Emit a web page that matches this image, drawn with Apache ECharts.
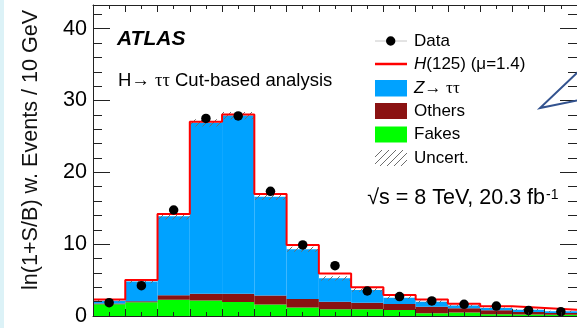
<!DOCTYPE html>
<html>
<head>
<meta charset="utf-8">
<script src="https://cdn.jsdelivr.net/npm/echarts@6/dist/echarts.min.js"></script>
<style>html,body{margin:0;padding:0;background:#fff;}#c{width:577px;height:328px;}</style>
</head>
<body>
<div id="c"></div>
<script>
// ---- data ----
const binEdges = [50,60,70,80,90,100,110,120,130,140,150,160,170,180,190,200];
const fakes    = [1.63,1.90,2.25,2.15,1.95,1.60,1.20,0.93,0.93,0.84,0.40,0.50,0.25,0.22,0.17];
const others   = [0.12,0.15,0.63,0.95,1.15,1.25,1.15,1.07,0.93,0.83,0.90,0.57,0.55,0.33,0.25];
const ztautau  = [0.38,2.75,11.02,23.80,24.80,13.75,6.95,3.25,1.76,0.88,0.70,0.38,0.30,0.33,0.23];
const higgs    = [0.17,0.20,0.30,0.15,0.17,0.40,0.60,0.65,0.38,0.37,0.30,0.25,0.25,0.22,0.21];
const uncert   = [0.15,0.25,0.45,0.50,0.50,0.45,0.35,0.30,0.25,0.20,0.15,0.12,0.10,0.10,0.08];
const dataPts  = [1.86,4.22,14.76,27.5,27.85,17.36,9.9,7.0,3.48,2.7,2.1,1.63,1.39,0.77,0.6];
const yTicks   = [0,10,20,30,40];

const FONT = '"Liberation Sans", Arial, Helvetica, sans-serif';
const C_BLUE = '#00a2ff', C_OTH = '#8a1212', C_FAKE = '#00ff00', C_RED = '#ff0000';

function hatchPattern(size, color){
  const c = document.createElement('canvas');
  c.width = size; c.height = size;
  const g = c.getContext('2d');
  g.strokeStyle = color; g.lineWidth = 1;
  g.beginPath();
  g.moveTo(0, size); g.lineTo(size, 0);
  g.moveTo(-2, 2); g.lineTo(2, -2);
  g.moveTo(size-2, size+2); g.lineTo(size+2, size-2);
  g.stroke();
  return {image: c, repeat: 'repeat'};
}
const HATCH = hatchPattern(7, '#6d6d6d');

// stacked layers
const nb = fakes.length;
const base0 = new Array(nb).fill(0);
const top1 = fakes.map((v,i)=>v);
const top2 = top1.map((v,i)=>v+others[i]);
const top3 = top2.map((v,i)=>v+ztautau[i]);
const top4 = top3.map((v,i)=>v+higgs[i]);

function layer(lo, hi){
  return lo.map((b,i)=>[binEdges[i], binEdges[i+1], b, hi[i]]);
}
function rectRender(fill){
  return function(params, api){
    const p0 = api.coord([api.value(0), api.value(3)]);
    const p1 = api.coord([api.value(1), api.value(2)]);
    return {type:'rect', shape:{x:p0[0], y:p0[1], width:p1[0]-p0[0], height:p1[1]-p0[1]},
            style:{fill: fill, stroke: null}};
  };
}
const stackSeries = [
  {name:'Fakes', lo: base0, hi: top1, fill: C_FAKE},
  {name:'Others', lo: top1, hi: top2, fill: C_OTH},
  {name:'Ztt', lo: top2, hi: top3, fill: C_BLUE}
].map((s,k)=>({
  type:'custom', name:s.name, xAxisIndex:0, yAxisIndex:0, z:2+k*0.1, clip:true,
  renderItem: rectRender(s.fill),
  encode:{x:[0,1], y:[2,3]},
  data: layer(s.lo, s.hi)
}));

const hatchSeries = {
  type:'custom', name:'Uncert', xAxisIndex:0, yAxisIndex:0, z:3, clip:true,
  renderItem: rectRender(HATCH),
  encode:{x:[0,1], y:[2,3]},
  data: top3.map((t,i)=>[binEdges[i], binEdges[i+1], t-uncert[i], t+uncert[i]])
};

const redLine = {
  type:'line', name:'H', step:'end', xAxisIndex:0, yAxisIndex:0, z:4,
  showSymbol:false, symbol:'none',
  lineStyle:{color:C_RED, width:2},
  data: top4.map((v,i)=>[binEdges[i], v]).concat([[binEdges[nb], top4[nb-1]]])
};

const dataSeries = {
  type:'scatter', name:'Data', xAxisIndex:0, yAxisIndex:0, z:5,
  symbol:'circle', symbolSize:9.5, itemStyle:{color:'#000', opacity:1},
  data: dataPts.map((v,i)=>[(binEdges[i]+binEdges[i+1])/2, v])
};

const AX = '#222';
function xAx(pos){
  return {type:'value', position:pos, min:50, max:200, interval:10, z:10,
    axisLine:{show:true, onZero:false, lineStyle:{color:AX, width:1}},
    axisTick:{show:true, inside:true, length:7, lineStyle:{color:AX}},
    minorTick:{show:true, splitNumber:2, length:4, lineStyle:{color:AX}},
    axisLabel:{show:false}, splitLine:{show:false}};
}
function yAx(pos, interval, len, labels, line){
  return {type:'value', position:pos, min:0, max:43.3, interval:interval, z:10,
    axisLine:{show:line, onZero:false, lineStyle:{color:AX, width:1}},
    axisTick:{show:true, inside:true, length:len, lineStyle:{color:AX}},
    axisLabel:{show:labels, margin:6, fontSize:21.6, color:'#000', fontFamily:FONT,
      showMaxLabel:false,
      formatter:(v)=> yTicks.indexOf(v) >= 0 ? String(v) : ''},
    splitLine:{show:false}};
}

const legX = 375, legW = 32, txtX = 414, legFont = 17;
function legText(y, text, rich){
  return {type:'text', x:txtX, y:y, z:100,
    style:{text:text, fill:'#000', font: legFont+'px '+FONT, verticalAlign:'middle', align:'left', rich:rich||{}}};
}
const richIt = {i:{fontStyle:'italic', fontSize:legFont, fontFamily:FONT, fill:'#000'},
                g:{fontSize:legFont, fontFamily:'"Liberation Serif", serif', fill:'#000'}};

const graphics = [
  {type:'rect', shape:{x:0,y:0,width:4,height:328}, style:{fill:'#dcf2f7'}, z:100},
  // y-axis title
  {type:'text', x:31, y:290, rotation:Math.PI/2, z:100,
   style:{text:'ln(1+S/B) w. Events / 10 GeV', fill:'#111', font:'21.6px '+FONT, align:'left', verticalAlign:'middle'}},
  // ATLAS label
  {type:'text', x:117, y:39, z:100,
   style:{text:'ATLAS', fill:'#000', font:'italic bold 21px '+FONT, align:'left', verticalAlign:'middle'}},
  {type:'text', x:118, y:81, z:100,
   style:{text:'H\u2192 {g|\u03c4\u03c4} Cut-based analysis', fill:'#000', font:'18.5px '+FONT, align:'left', verticalAlign:'middle',
     rich:{g:{fontSize:18.5, fontFamily:'"Liberation Serif", serif', fill:'#000'}}}},
  // energy / lumi
  {type:'text', x:545, y:198.5, z:100,
   style:{text:'\u221as = 8 TeV, 20.3 fb', fill:'#000', font:'21.5px '+FONT, align:'right', verticalAlign:'middle'}},
  {type:'text', x:546, y:188, z:100,
   style:{text:'-1', fill:'#000', font:'14px '+FONT, align:'left', verticalAlign:'top'}},
  // legend
  {type:'line', shape:{x1:legX, y1:41, x2:legX+legW, y2:41}, style:{stroke:'#c8c8c8', lineWidth:1}, z:100},
  {type:'circle', shape:{cx:390.7, cy:41, r:4.7}, style:{fill:'#000'}, z:101},
  legText(41, 'Data'),
  {type:'line', shape:{x1:legX, y1:64, x2:legX+legW, y2:64}, style:{stroke:C_RED, lineWidth:2.5}, z:100},
  legText(64, '{i|H}(125) (\u03bc=1.4)', richIt),
  {type:'rect', shape:{x:legX, y:80, width:legW, height:16.5}, style:{fill:C_BLUE}, z:100},
  legText(88.3, '{i|Z}\u2192 {g|\u03c4\u03c4}', richIt),
  {type:'rect', shape:{x:legX, y:103, width:legW, height:16}, style:{fill:C_OTH}, z:100},
  legText(111, 'Others'),
  {type:'rect', shape:{x:legX, y:126.5, width:legW, height:16}, style:{fill:C_FAKE}, z:100},
  legText(134.5, 'Fakes'),
  {type:'rect', shape:{x:legX, y:150, width:legW, height:16}, style:{fill:HATCH}, z:100},
  legText(158, 'Uncert.'),
  // pointer lines at right edge
  {type:'polyline', shape:{points:[[579,71],[540,108],[579,100]]}, style:{stroke:'#33538f', lineWidth:2, fill:null}, z:100}
];

const chart = echarts.init(document.getElementById('c'), null, {renderer:'canvas'});
chart.setOption({
  animation:false,
  backgroundColor:'#fff',
  textStyle:{fontFamily:FONT},
  grid:{left:93, top:5, right:-6, bottom:12, containLabel:false},
  xAxis:[xAx('bottom'), xAx('top')],
  yAxis:[yAx('left',10,17,true,true), yAx('left',2,9,false,false), yAx('right',10,17,false,true), yAx('right',2,9,false,false)],
  series: stackSeries.concat([hatchSeries, redLine, dataSeries]),
  graphic: graphics
});
</script>
</body>
</html>
